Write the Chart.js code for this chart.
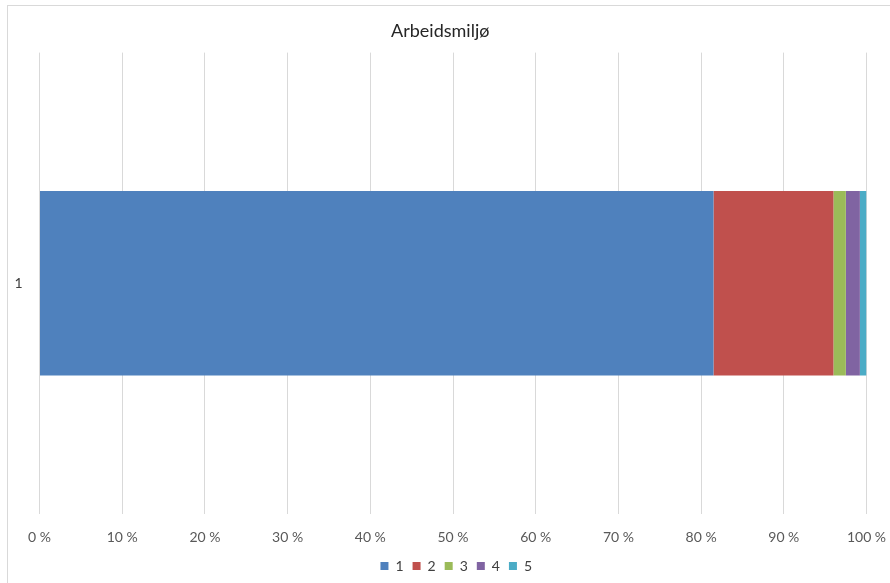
<!DOCTYPE html>
<html>
<head>
<meta charset="utf-8">
<script src="https://cdn.jsdelivr.net/npm/chart.js@4"></script>
<style>
  html, body { margin: 0; padding: 0; background: #fff; }
  #wrap { position: relative; width: 890px; height: 583px; }
  #frame { position: absolute; left: 7px; top: 5px; width: 890px; height: 590px;
           border: 1px solid #d9d9d9; box-sizing: border-box; pointer-events: none; }
  canvas { position: absolute; left: 0; top: 0; }
</style>
</head>
<body>
<div id="wrap">
  <canvas id="c" width="890" height="583"></canvas>
  <div id="frame"></div>
</div>
<script>
// Single category, five answer groups, shares in percent
const categories = ['1'];
const seriesNames = ['1', '2', '3', '4', '5'];
const share1 = [81.5];
const share2 = [14.5];
const share3 = [1.5];
const share4 = [1.7];
const share5 = [0.8];
const xTicks = [0, 10, 20, 30, 40, 50, 60, 70, 80, 90, 100];

const colors = ['#4F81BD', '#C0504D', '#9BBB59', '#8064A2', '#4BACC6'];
const seriesValues = [share1, share2, share3, share4, share5];

const datasets = seriesNames.map((name, i) => ({
  label: name,
  data: seriesValues[i],
  backgroundColor: colors[i],
  borderWidth: 0,
  categoryPercentage: 0.4,
  barPercentage: 1.0
}));

const FONT = 'Lato, "Open Sans", "Liberation Sans", sans-serif';

// Nudges the bottom legend to the right of the centred position
const legendShift = {
  id: 'legendShift',
  afterLayout(chart) {
    const lg = chart.legend;
    if (lg) { lg.left += 16; lg.right += 16; }
  }
};

new Chart(document.getElementById('c'), {
  type: 'bar',
  data: { labels: categories, datasets },
  plugins: [legendShift],
  options: {
    indexAxis: 'y',
    responsive: false,
    animation: false,
    layout: { padding: { left: 14, right: 23.5, top: 0, bottom: 0 } },
    scales: {
      x: {
        stacked: true,
        min: 0,
        max: 100,
        afterBuildTicks: (scale) => { scale.ticks = xTicks.map(v => ({ value: v })); },
        afterFit: (scale) => { scale.height = 36; scale.paddingLeft = 0; scale.paddingRight = 0; },
        border: { display: false },
        grid: { color: '#d9d9d9', drawTicks: false, lineWidth: 1 },
        ticks: {
          padding: 15,
          color: '#595959',
          font: { family: FONT, size: 14 },
          callback: (v) => v + ' %'
        }
      },
      y: {
        stacked: true,
        border: { display: false },
        grid: { display: false, drawTicks: false },
        afterFit: (scale) => { scale.width = 25.5; },
        ticks: {
          padding: 17,
          color: '#404040',
          font: { family: FONT, size: 14 }
        }
      }
    },
    plugins: {
      title: {
        display: true,
        text: 'Arbeidsmiljø',
        color: '#262626',
        font: { family: FONT, size: 18, weight: 'normal' },
        padding: { top: 20, bottom: 11 }
      },
      legend: {
        position: 'bottom',
        labels: {
          boxWidth: 8,
          boxHeight: 8,
          padding: 9,
          color: '#404040',
          font: { family: FONT, size: 14 }
        }
      },
      tooltip: { enabled: false }
    }
  }
});
</script>
</body>
</html>
